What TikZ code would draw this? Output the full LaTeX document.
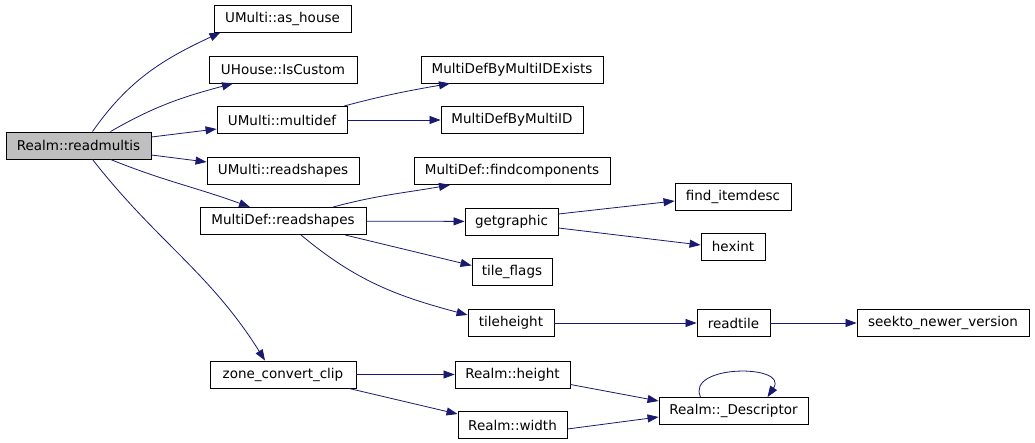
\documentclass[tikz,border=0pt]{standalone}
\usepackage{fontspec}
\setmainfont{DejaVu Sans}
\usetikzlibrary{arrows.meta}
\definecolor{callblue}{HTML}{191970}
\begin{document}
\begin{tikzpicture}[x=1pt,y=-1pt,fn/.style={draw,line width=0.9pt,minimum height=27,inner sep=0pt,font=\fontsize{13.5}{15}\selectfont},root/.style={fn,fill=black!25},call/.style={draw=callblue,line width=0.8pt,-{Triangle[length=11pt,width=8pt]}}]
\useasboundingbox[fill=white] (0,0) rectangle (1035,443);
\node[root,minimum width=145] (readmultis) at (78.5,145.5) {Realm::readmultis};
\node[fn,minimum width=137] (ashouse) at (282.5,18.5) {UMulti::as\_house};
\node[fn,minimum width=148] (iscustom) at (283,69.5) {UHouse::IsCustom};
\node[fn,minimum width=130] (multidef) at (282,120) {UMulti::multidef};
\node[fn,minimum width=152] (umreadshapes) at (283,171) {UMulti::readshapes};
\node[fn,minimum width=166] (mdreadshapes) at (283,221) {MultiDef::readshapes};
\node[fn,minimum width=146] (zone) at (283,374.5) {zone\_convert\_clip};
\node[fn,minimum width=182] (existsid) at (512,69.5) {MultiDefByMultiIDExists};
\node[fn,minimum width=142] (byid) at (512,120) {MultiDefByMultiID};
\node[fn,minimum width=196] (findcomp) at (512,171) {MultiDef::findcomponents};
\node[fn,minimum width=93] (getgraphic) at (511.5,221.5) {getgraphic};
\node[fn,minimum width=80] (tileflags) at (512,271.5) {tile\_flags};
\node[fn,minimum width=86] (tileheight) at (511,323) {tileheight};
\node[fn,minimum width=115] (rheight) at (512.5,374.5) {Realm::height};
\node[fn,minimum width=109] (rwidth) at (512.5,425) {Realm::width};
\node[fn,minimum width=116] (finditem) at (733,196.5) {find\_itemdesc};
\node[fn,minimum width=64] (hexint) at (733,246.5) {hexint};
\node[fn,minimum width=73] (readtile) at (733.5,323) {readtile};
\node[fn,minimum width=172] (seekto) at (943,323) {seekto\_newer\_version};
\node[fn,minimum width=149] (descriptor) at (733.5,411) {Realm::\_Descriptor};
\draw[call] ([xshift=14]readmultis.north) to[out=55,in=205] ([xshift=-62]ashouse.south);
\draw[call] ([xshift=32]readmultis.north) to[out=30,in=195] ([xshift=-50]iscustom.south);
\draw[call] ([yshift=8.5]readmultis.east) -- ([yshift=-9]multidef.west);
\draw[call] ([yshift=-9.5]readmultis.east) -- ([yshift=9]umreadshapes.west);
\draw[call] ([xshift=32]readmultis.south) to[out=-22,in=160] ([xshift=-33]mdreadshapes.north);
\draw[call] ([xshift=14]readmultis.south) to[out=-52,in=122] ([xshift=-18]zone.north);
\draw[call] ([xshift=62]multidef.north) to[out=15,in=190] ([xshift=-62]existsid.south);
\draw[call] (multidef) -- (byid);
\draw[call] ([xshift=50]mdreadshapes.north) to[out=15,in=190] ([xshift=-62]findcomp.south);
\draw[call] (mdreadshapes) -- (getgraphic);
\draw[call] ([xshift=62]mdreadshapes.south) -- ([yshift=6]tileflags.west);
\draw[call] ([xshift=18]mdreadshapes.south) to[out=-40,in=165] ([yshift=8]tileheight.west);
\draw[call] ([yshift=7.5]getgraphic.east) -- ([yshift=-4.5]finditem.west);
\draw[call] ([yshift=-6.5]getgraphic.east) -- ([yshift=1.5]hexint.west);
\draw[call] (tileheight) -- (readtile);
\draw[call] (readtile) -- (seekto);
\draw[call] (zone) -- (rheight);
\draw[call] ([xshift=66]zone.south) -- ([yshift=11]rwidth.west);
\draw[call] ([yshift=-10]rheight.east) -- ([yshift=10]descriptor.west);
\draw[call] ([yshift=-4]rwidth.east) -- ([yshift=-6]descriptor.west);
\draw[call] ([xshift=-33]descriptor.north) .. controls +(-15,-33) and +(22,-33) .. ([xshift=34]descriptor.north);
\end{tikzpicture}
\end{document}
